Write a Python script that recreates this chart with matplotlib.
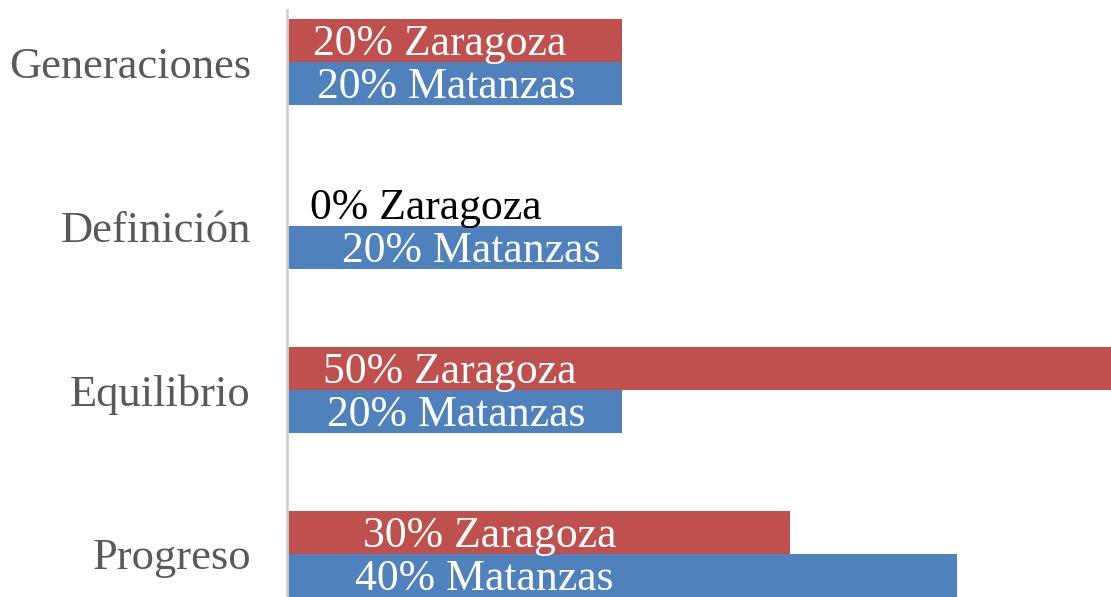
import matplotlib.pyplot as plt
import numpy as np

categories = ["Generaciones", "Definición", "Equilibrio", "Progreso"]
zaragoza = [20, 0, 50, 30]
matanzas = [20, 20, 20, 40]

# label centres (in % units) as placed in the original
zar_label_x = [9.1, 8.3, 9.7, 12.1]
mat_label_x = [9.5, 11.0, 10.1, 11.8]

RED = "#C0504D"
BLUE = "#4F81BD"
GRAY = "#595959"
FONT = "Liberation Serif"

fig = plt.figure(figsize=(11.11, 5.97), dpi=100)
ax = fig.add_axes([287 / 1111, 0, 1 - 287 / 1111, 587 / 597])

y = np.arange(len(categories))
h = 0.262
ax.barh(y - h / 2, zaragoza, height=h, color=RED)
ax.barh(y + h / 2, matanzas, height=h, color=BLUE)

base = 14.5 / 164  # baseline offset below the bar centre
for i in range(len(categories)):
    zc = "white" if zaragoza[i] > 0 else "black"
    ax.text(zar_label_x[i], y[i] - h / 2 + base, "%i%% Zaragoza" % zaragoza[i], ha="center", va="baseline",
            color=zc, fontsize=31.5, family=FONT)
    ax.text(mat_label_x[i], y[i] + h / 2 + base, "%i%% Matanzas" % matanzas[i], ha="center", va="baseline",
            color="white", fontsize=31.5, family=FONT)

ax.set_xlim(0, 824 / 16.75)
ax.set_ylim(3 + 43 / 164, -52 / 164)
ax.set_yticks(y)
ax.set_yticklabels(categories, fontsize=32, family=FONT, color=GRAY)
ax.set_xticks([])
ax.tick_params(axis="y", length=0, pad=26)
for s in ["top", "right", "bottom"]:
    ax.spines[s].set_visible(False)
ax.spines["left"].set_color("#d0d0d0")
ax.spines["left"].set_linewidth(2)

fig.savefig("out.png", dpi=100)
